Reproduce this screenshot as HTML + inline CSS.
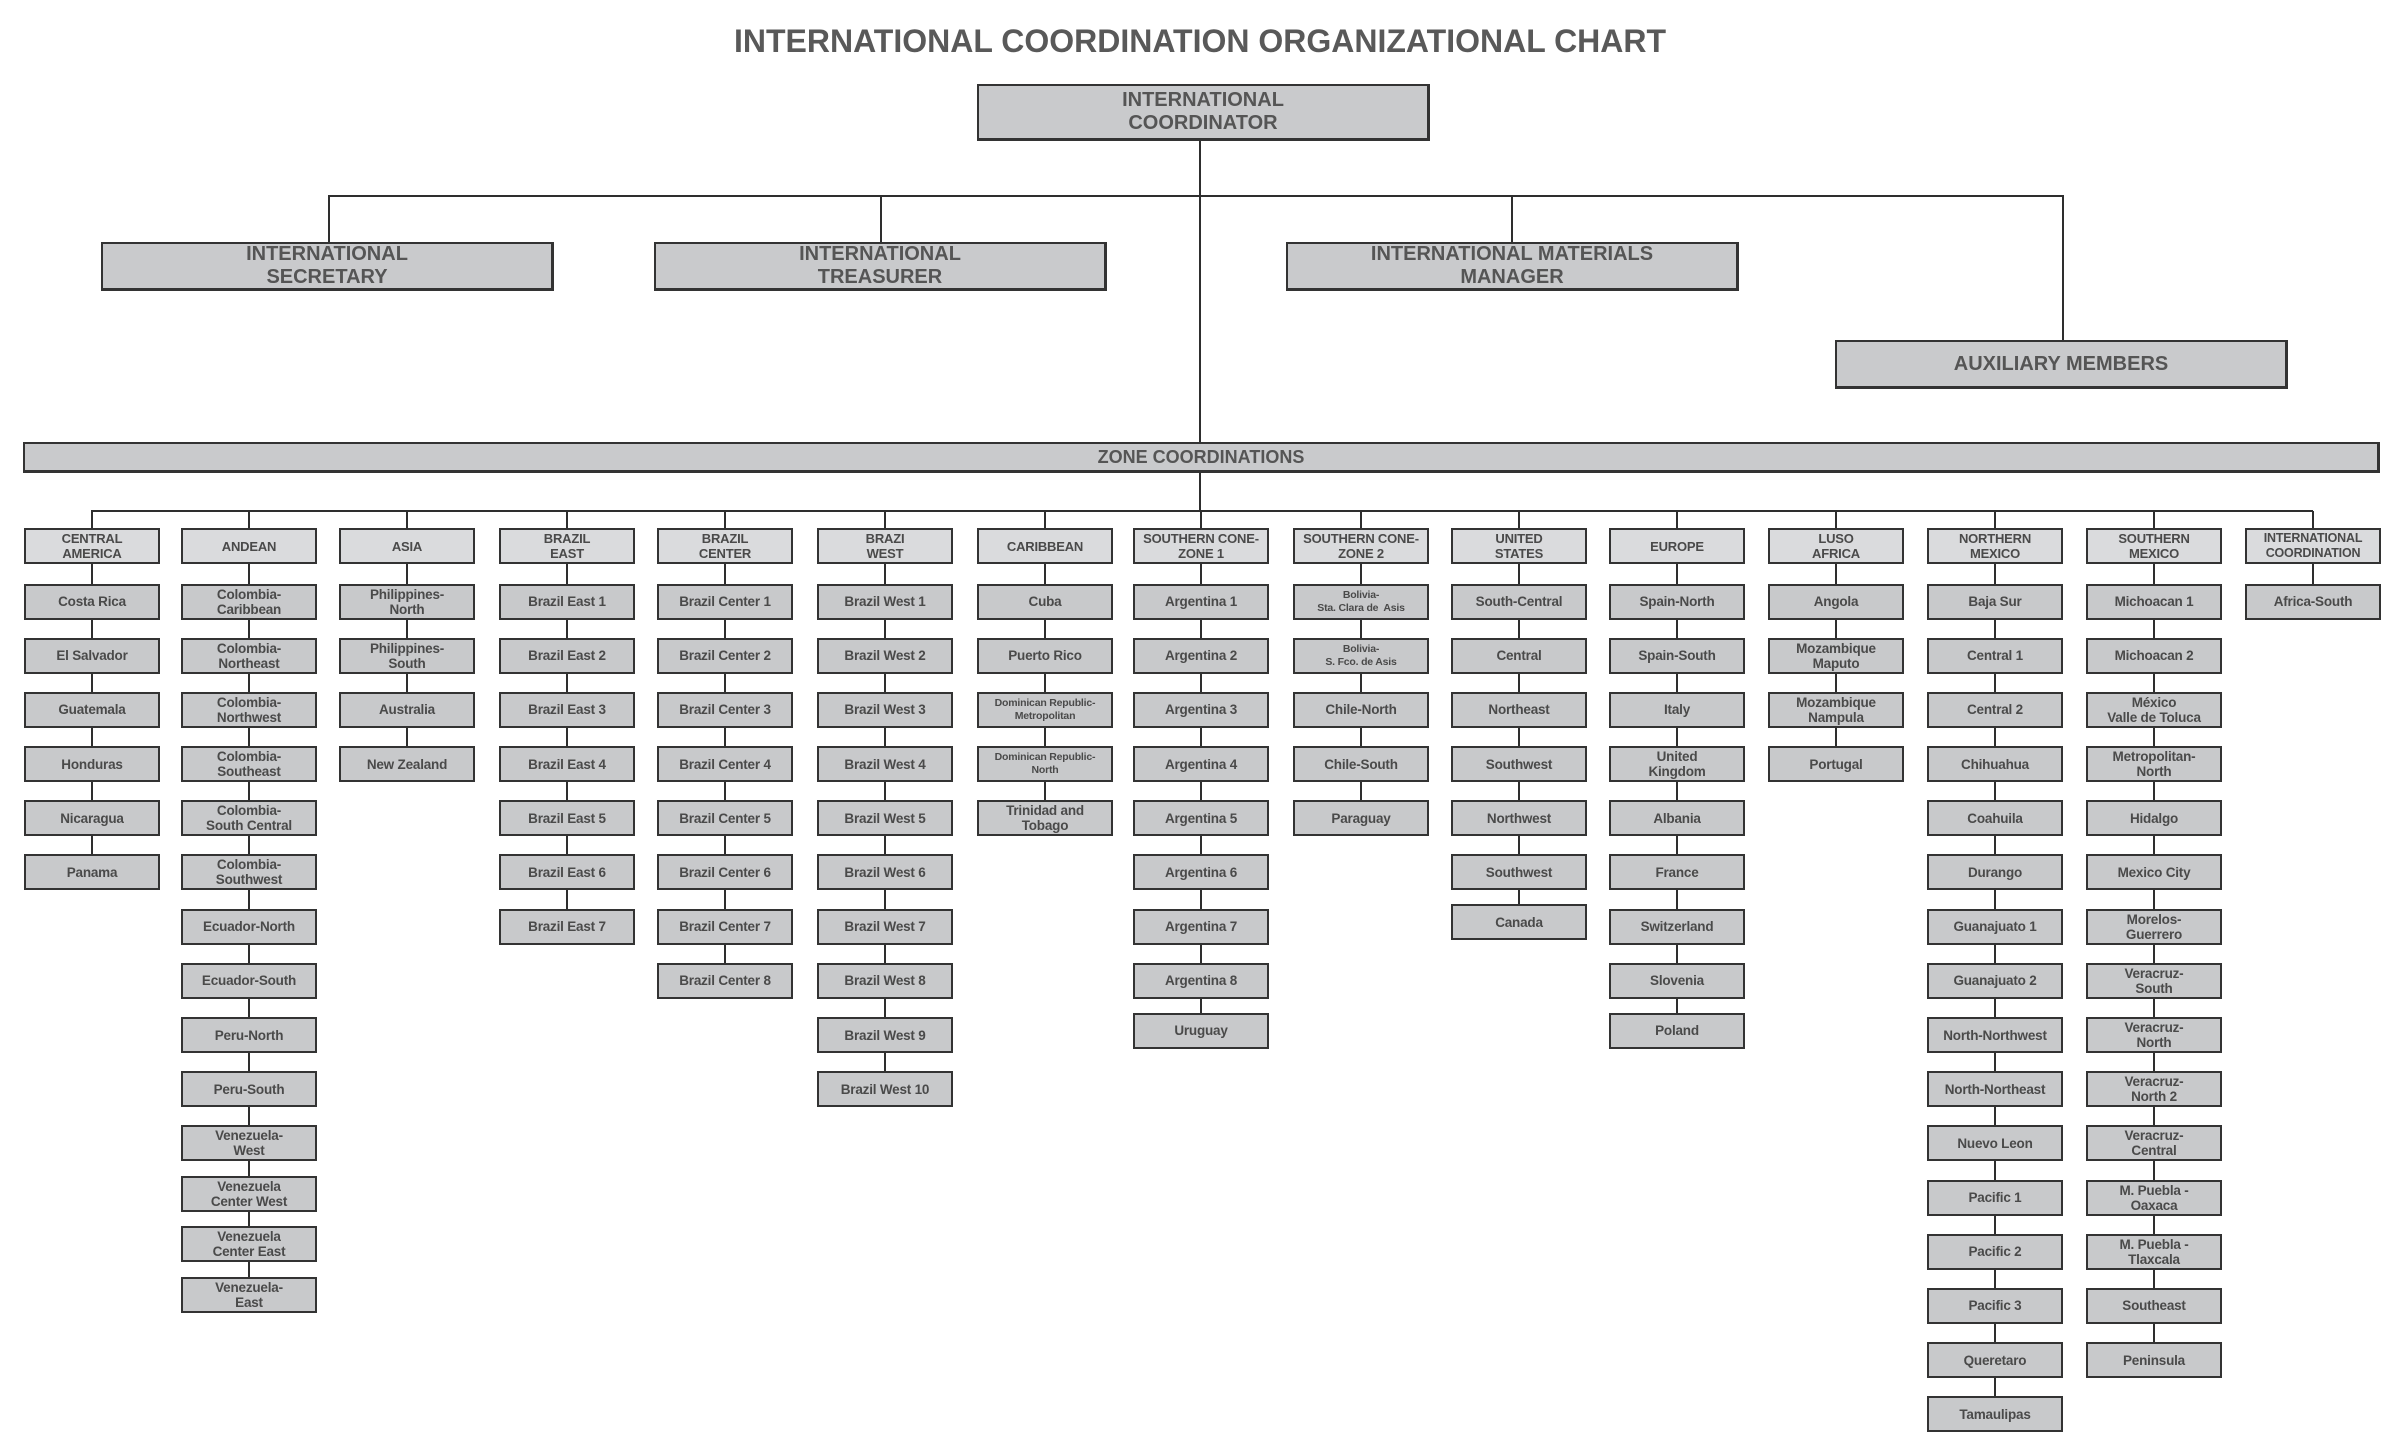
<!DOCTYPE html>
<html><head><meta charset="utf-8">
<style>
*{box-sizing:border-box;margin:0;padding:0}
body{width:2400px;height:1456px;background:#fff;position:relative;overflow:hidden;font-family:"Liberation Sans",sans-serif;font-weight:bold;color:#4d4d4d}
.a{position:absolute}
.ln{position:absolute;background:#2e2e2e}
.big{position:absolute;background:#c9cacc;border:2px solid #333;border-right-width:3px;border-bottom-width:3px;display:flex;align-items:center;justify-content:center;text-align:center;font-size:20px;line-height:23px;color:#555}
.col{position:absolute;top:528px;width:136px}
.col .vl{position:absolute;left:67px;top:-17px;width:2px;background:#2e2e2e;z-index:0}
.b{position:relative;z-index:1;height:36px;margin-bottom:18.2px;background:#c8c9cb;border:2px solid #333;display:flex;align-items:center;justify-content:center;text-align:center;font-size:13.5px;line-height:15px;color:#4a4a4a;letter-spacing:-0.2px}
.h{background:#dadbdd;margin-bottom:19.5px;font-size:13px;line-height:15px}
.s{font-size:10.5px;line-height:13px}
.t{margin-bottom:14.5px}
.u{margin-bottom:14px}
</style></head><body>
<div class="a" style="left:0;top:23px;width:2400px;text-align:center;font-size:32px;color:#595959">INTERNATIONAL COORDINATION ORGANIZATIONAL CHART</div>

<div class="ln" style="left:1199px;top:141px;width:2px;height:301px"></div>
<div class="ln" style="left:328px;top:195px;width:1736px;height:2px"></div>
<div class="ln" style="left:328px;top:195px;width:2px;height:47px"></div>
<div class="ln" style="left:880px;top:195px;width:2px;height:47px"></div>
<div class="ln" style="left:1511px;top:195px;width:2px;height:47px"></div>
<div class="ln" style="left:2062px;top:195px;width:2px;height:145px"></div>
<div class="ln" style="left:1199px;top:473px;width:2px;height:38px"></div>
<div class="ln" style="left:91px;top:510px;width:2222px;height:2px"></div>

<div class="big" style="left:977px;top:84px;width:453px;height:57px">INTERNATIONAL<br>COORDINATOR</div>
<div class="big" style="left:101px;top:242px;width:453px;height:49px">INTERNATIONAL<br>SECRETARY</div>
<div class="big" style="left:654px;top:242px;width:453px;height:49px">INTERNATIONAL<br>TREASURER</div>
<div class="big" style="left:1286px;top:242px;width:453px;height:49px">INTERNATIONAL MATERIALS<br>MANAGER</div>
<div class="big" style="left:1835px;top:340px;width:453px;height:49px">AUXILIARY MEMBERS</div>
<div class="big" style="left:23px;top:442px;width:2357px;height:31px;font-size:18px">ZONE COORDINATIONS</div>

<div class="col" style="left:24px"><div class="vl" style="height:361px"></div>
<div class="b h">CENTRAL<br>AMERICA</div><div class="b">Costa Rica</div><div class="b">El Salvador</div><div class="b">Guatemala</div><div class="b">Honduras</div><div class="b">Nicaragua</div><div class="b">Panama</div></div>

<div class="col" style="left:181px"><div class="vl" style="height:785px"></div>
<div class="b h">ANDEAN</div><div class="b">Colombia-<br>Caribbean</div><div class="b">Colombia-<br>Northeast</div><div class="b">Colombia-<br>Northwest</div><div class="b">Colombia-<br>Southeast</div><div class="b">Colombia-<br>South Central</div><div class="b">Colombia-<br>Southwest</div><div class="b">Ecuador-North</div><div class="b">Ecuador-South</div><div class="b">Peru-North</div><div class="b">Peru-South</div><div class="b t">Venezuela-<br>West</div><div class="b t">Venezuela<br>Center West</div><div class="b t">Venezuela<br>Center East</div><div class="b">Venezuela-<br>East</div></div>

<div class="col" style="left:339px"><div class="vl" style="height:253px"></div>
<div class="b h">ASIA</div><div class="b">Philippines-<br>North</div><div class="b">Philippines-<br>South</div><div class="b">Australia</div><div class="b">New Zealand</div></div>

<div class="col" style="left:499px"><div class="vl" style="height:416px"></div>
<div class="b h">BRAZIL<br>EAST</div><div class="b">Brazil East 1</div><div class="b">Brazil East 2</div><div class="b">Brazil East 3</div><div class="b">Brazil East 4</div><div class="b">Brazil East 5</div><div class="b">Brazil East 6</div><div class="b">Brazil East 7</div></div>

<div class="col" style="left:657px"><div class="vl" style="height:470px"></div>
<div class="b h">BRAZIL<br>CENTER</div><div class="b">Brazil Center 1</div><div class="b">Brazil Center 2</div><div class="b">Brazil Center 3</div><div class="b">Brazil Center 4</div><div class="b">Brazil Center 5</div><div class="b">Brazil Center 6</div><div class="b">Brazil Center 7</div><div class="b">Brazil Center 8</div></div>

<div class="col" style="left:817px"><div class="vl" style="height:578px"></div>
<div class="b h">BRAZI<br>WEST</div><div class="b">Brazil West 1</div><div class="b">Brazil West 2</div><div class="b">Brazil West 3</div><div class="b">Brazil West 4</div><div class="b">Brazil West 5</div><div class="b">Brazil West 6</div><div class="b">Brazil West 7</div><div class="b">Brazil West 8</div><div class="b">Brazil West 9</div><div class="b">Brazil West 10</div></div>

<div class="col" style="left:977px"><div class="vl" style="height:307px"></div>
<div class="b h">CARIBBEAN</div><div class="b">Cuba</div><div class="b">Puerto Rico</div><div class="b s">Dominican Republic-<br>Metropolitan</div><div class="b s">Dominican Republic-<br>North</div><div class="b">Trinidad and<br>Tobago</div></div>

<div class="col" style="left:1133px"><div class="vl" style="height:520px"></div>
<div class="b h">SOUTHERN CONE-<br>ZONE 1</div><div class="b">Argentina 1</div><div class="b">Argentina 2</div><div class="b">Argentina 3</div><div class="b">Argentina 4</div><div class="b">Argentina 5</div><div class="b">Argentina 6</div><div class="b">Argentina 7</div><div class="b u">Argentina 8</div><div class="b">Uruguay</div></div>

<div class="col" style="left:1293px"><div class="vl" style="height:307px"></div>
<div class="b h">SOUTHERN CONE-<br>ZONE 2</div><div class="b s">Bolivia-<br>Sta. Clara de&nbsp; Asis</div><div class="b s">Bolivia-<br>S. Fco. de Asis</div><div class="b">Chile-North</div><div class="b">Chile-South</div><div class="b">Paraguay</div></div>

<div class="col" style="left:1451px"><div class="vl" style="height:412px"></div>
<div class="b h">UNITED<br>STATES</div><div class="b">South-Central</div><div class="b">Central</div><div class="b">Northeast</div><div class="b">Southwest</div><div class="b">Northwest</div><div class="b u">Southwest</div><div class="b">Canada</div></div>

<div class="col" style="left:1609px"><div class="vl" style="height:520px"></div>
<div class="b h">EUROPE</div><div class="b">Spain-North</div><div class="b">Spain-South</div><div class="b">Italy</div><div class="b">United<br>Kingdom</div><div class="b">Albania</div><div class="b">France</div><div class="b">Switzerland</div><div class="b u">Slovenia</div><div class="b">Poland</div></div>

<div class="col" style="left:1768px"><div class="vl" style="height:253px"></div>
<div class="b h">LUSO<br>AFRICA</div><div class="b">Angola</div><div class="b">Mozambique<br>Maputo</div><div class="b">Mozambique<br>Nampula</div><div class="b">Portugal</div></div>

<div class="col" style="left:1927px"><div class="vl" style="height:903px"></div>
<div class="b h">NORTHERN<br>MEXICO</div><div class="b">Baja Sur</div><div class="b">Central 1</div><div class="b">Central 2</div><div class="b">Chihuahua</div><div class="b">Coahuila</div><div class="b">Durango</div><div class="b">Guanajuato 1</div><div class="b">Guanajuato 2</div><div class="b">North-Northwest</div><div class="b">North-Northeast</div><div class="b">Nuevo Leon</div><div class="b">Pacific 1</div><div class="b">Pacific 2</div><div class="b">Pacific 3</div><div class="b">Queretaro</div><div class="b">Tamaulipas</div></div>

<div class="col" style="left:2086px"><div class="vl" style="height:849px"></div>
<div class="b h">SOUTHERN<br>MEXICO</div><div class="b">Michoacan 1</div><div class="b">Michoacan 2</div><div class="b">México<br>Valle de Toluca</div><div class="b">Metropolitan-<br>North</div><div class="b">Hidalgo</div><div class="b">Mexico City</div><div class="b">Morelos-<br>Guerrero</div><div class="b">Veracruz-<br>South</div><div class="b">Veracruz-<br>North</div><div class="b">Veracruz-<br>North 2</div><div class="b">Veracruz-<br>Central</div><div class="b">M. Puebla -<br>Oaxaca</div><div class="b">M. Puebla -<br>Tlaxcala</div><div class="b">Southeast</div><div class="b">Peninsula</div></div>

<div class="col" style="left:2245px"><div class="vl" style="height:90px"></div>
<div class="b h" style="font-size:12.5px">INTERNATIONAL<br>COORDINATION</div><div class="b">Africa-South</div></div>
</body></html>
